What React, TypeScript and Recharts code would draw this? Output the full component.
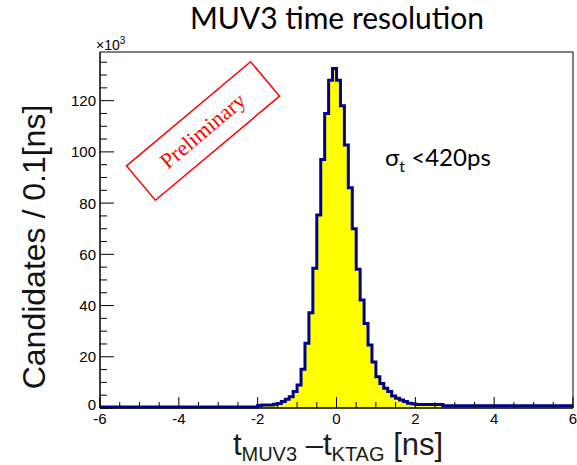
import React from 'react';
import { AreaChart, Area, XAxis, YAxis, ReferenceArea } from 'recharts';

// bin lower edges, 0.1 ns wide, -6 .. 5.9
const binStarts = Array.from({ length: 120 }, (_, i) => Math.round((-6 + i * 0.1) * 10) / 10);

// candidates per bin, in units of 10^3
const counts = [
  // -6.0 .. -2.1
  0.4, 0.4, 0.4, 0.4, 0.4, 0.4, 0.4, 0.4, 0.4, 0.4,
  0.4, 0.4, 0.4, 0.4, 0.4, 0.4, 0.4, 0.4, 0.4, 0.4,
  0.4, 0.4, 0.4, 0.4, 0.4, 0.4, 0.4, 0.4, 0.4, 0.4,
  0.4, 0.4, 0.4, 0.4, 0.4, 0.4, 0.4, 0.4, 0.4, 0.4,
  // -2.0 .. -1.1
  1.0, 1.2, 1.2, 1.2, 1.5, 1.8, 2.5, 3.4, 4.4, 6.4,
  // -1.0 .. -0.1
  9.0, 15.1, 25.3, 37.2, 54.6, 75.4, 97.0, 115.0, 128.0, 132.6,
  // 0.0 .. 0.9
  128.0, 118.0, 102.7, 86.0, 70.0, 54.2, 42.2, 33.0, 24.6, 18.0,
  // 1.0 .. 1.9
  12.2, 9.6, 7.7, 6.4, 4.7, 3.8, 3.1, 2.5, 1.9, 1.7,
  // 2.0 .. 2.9
  1.4, 1.4, 1.4, 1.4, 1.4, 1.4, 1.4, 0.9, 0.9, 0.9,
  // 3.0 .. 5.9
  0.9, 0.9, 0.9, 0.9, 0.9, 0.9, 0.9, 0.9, 0.9, 0.9,
  0.9, 0.9, 0.9, 0.9, 0.9, 0.9, 0.9, 0.9, 0.9, 0.9,
  0.9, 0.9, 0.9, 0.9, 0.9, 0.9, 0.9, 0.9, 0.9, 0.9,
];

const xTicks = Array.from({ length: 25 }, (_, i) => -6 + i * 0.5);
const yTicks = Array.from({ length: 28 }, (_, i) => i * 5);

const data = [
  ...binStarts.map((x, i) => ({ x, v: counts[i] })),
  { x: 6, v: counts[counts.length - 1] },
];

const sans = 'Liberation Sans, Arial, Helvetica, sans-serif';

const YTick = (props: any) => {
  const { x, y, payload } = props;
  const v = payload.value;
  const major = v % 20 === 0;
  const ax = x + 4;
  // the 0 label sits a little higher so it clears the "-6" below it
  const ty = v === 0 ? y - 3 : y;
  return (
    <g>
      <line x1={ax} x2={ax + (major ? 14 : 7)} y1={y} y2={y} stroke="#000" />
      {major && (
        <text x={x} y={ty} dy="0.36em" textAnchor="end" fontSize={15} fontFamily={sans} fill="#000">
          {v}
        </text>
      )}
    </g>
  );
};

const XTick = (props: any) => {
  const { x, y, payload } = props;
  const v = payload.value;
  const major = Math.abs(v % 2) < 1e-6;
  const ay = y - 4;
  return (
    <g>
      <line x1={x} x2={x} y1={ay} y2={ay - (major ? 11 : 6)} stroke="#000" />
      {major && (
        <text x={x} y={y} dy={12} textAnchor="middle" fontSize={15} fontFamily={sans} fill="#000">
          {v}
        </text>
      )}
    </g>
  );
};

export default function App() {
  return (
    <div style={{ position: 'absolute', left: 0, top: 0, width: 577, height: 465, background: '#fff' }}>
      <AreaChart width={577} height={465} data={data} margin={{ top: 52, right: 4, left: 40, bottom: 27 }}>
        <XAxis
          dataKey="x"
          type="number"
          domain={[-6, 6]}
          ticks={xTicks}
          interval={0}
          tickSize={0}
          tickMargin={4}
          tick={<XTick />}
          axisLine={{ stroke: '#000' }}
          height={30}
        />
        <YAxis
          type="number"
          domain={[0, 139]}
          ticks={yTicks}
          interval={0}
          tickSize={0}
          tickMargin={4}
          tick={<YTick />}
          axisLine={{ stroke: '#000' }}
          width={60}
        />
        <Area
          dataKey="v"
          type="stepAfter"
          stroke="#00008f"
          strokeWidth={3}
          fill="#ffff00"
          fillOpacity={1}
          dot={false}
          activeDot={false}
          isAnimationActive={false}
        />
        <ReferenceArea x1={-6} x2={6} y1={0} y2={139} fill="none" stroke="#000" strokeWidth={1} ifOverflow="visible" />
      </AreaChart>
      <svg width={577} height={465} style={{ position: 'absolute', left: 0, top: 0, pointerEvents: 'none' }}>
        <text x={337} y={29} textAnchor="middle" fontSize={30} fontFamily="Lato, sans-serif" fill="#000">
          MUV3 time resolution
        </text>
        <text x={96} y={50} fontSize={14} fontFamily={sans} fill="#000">
          ×10<tspan dy={-6} fontSize={10}>3</tspan>
        </text>
        <text
          transform="translate(45,247) rotate(-90)"
          textAnchor="middle"
          fontSize={32}
          fontFamily={sans}
          fill="#111"
        >
          Candidates / 0.1[ns]
        </text>
        <text x={338} y={455} textAnchor="middle" fontSize={31} fontFamily={sans} fill="#221a14">
          t<tspan fontSize={20} dy={6}>MUV3</tspan>
          <tspan dy={-6}> –t</tspan>
          <tspan fontSize={20} dy={6}>KTAG</tspan>
          <tspan dy={-6}> [ns]</tspan>
        </text>
        <text x={385} y={166} fontSize={24} fontFamily="Lato, sans-serif" fill="#000">
          σ<tspan fontSize={16} dy={6}>t</tspan>
          <tspan dy={-6}> &lt;420ps</tspan>
        </text>
        <g transform="translate(203,131) rotate(-40)">
          <rect x={-81} y={-22.5} width={162} height={45} fill="none" stroke="#ff0000" strokeWidth={1.5} />
          <text x={0} y={7} textAnchor="middle" fontSize={22} fontFamily="Liberation Serif, Times New Roman, serif" fill="#ff0000">
            Preliminary
          </text>
        </g>
      </svg>
    </div>
  );
}
